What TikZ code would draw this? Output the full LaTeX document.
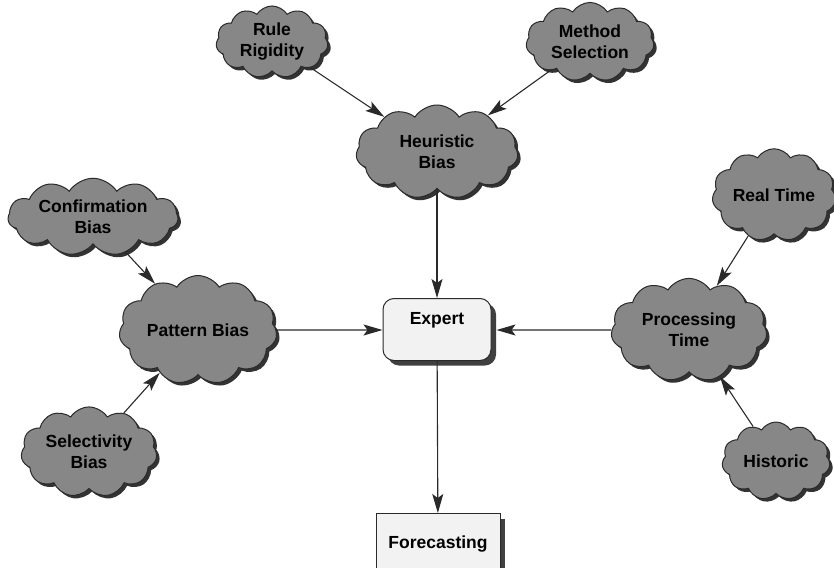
\documentclass[tikz,border=0pt]{standalone}
\usepackage{fontspec}
\setmainfont{Liberation Sans}
\usetikzlibrary{shapes.symbols,shadows,arrows.meta}
\definecolor{cloudfill}{HTML}{878787}
\definecolor{edgeink}{HTML}{2A2A2A}
\definecolor{boxfill}{HTML}{F2F2F2}
\begin{document}
\begin{tikzpicture}[x=1pt,y=-1pt,
  lbl/.style={font=\bfseries\fontsize{17.5}{21}\selectfont, align=center, text=black},
  idea/.style={lbl, cloud, cloud puffs=11, cloud puff arc=115, aspect=1.6,
    fill=cloudfill, draw=edgeink, line width=1pt, inner sep=0pt,
    drop shadow={shadow xshift=3pt, shadow yshift=-3pt, fill=black!80, opacity=1}},
  card/.style={lbl, rectangle, fill=boxfill, draw=edgeink, line width=1pt,
    drop shadow={shadow xshift=5pt, shadow yshift=-5pt, fill=black!75, opacity=1}},
  link/.style={draw=edgeink, line width=1.1pt,
    -{Stealth[length=19pt,width=11pt,inset=4pt]}}]
\useasboundingbox (0,0) rectangle (834,567);
\fill[white] (0,0) rectangle (834,567);

% concept clouds
\node[idea, aspect=1.5, minimum width=112pt, minimum height=72pt] (rule) at (272,42) {Rule\\Rigidity};
\node[idea, aspect=1.7, minimum width=128pt, minimum height=72pt] (method) at (590,42) {Method\\Selection};
\node[idea, aspect=1.7, minimum width=162pt, minimum height=94pt] (heur) at (437,152) {Heuristic\\Bias};
\node[idea, aspect=2.4, inner sep=-5pt, minimum width=170pt, minimum height=74pt] (confirm) at (93,217) {Confirmation\\Bias};
\node[idea, aspect=1.5, minimum width=108pt, minimum height=72pt] (real) at (774,195) {Real Time};
\node[idea, aspect=1.6, minimum width=158pt, minimum height=98pt] (pattern) at (198,330) {Pattern Bias};
\node[idea, aspect=1.55, minimum width=156pt, minimum height=102pt] (proc) at (689,330) {Processing\\Time};
\node[idea, aspect=1.65, minimum width=136pt, minimum height=82pt] (select) at (89,452) {Selectivity\\Bias};
\node[idea, aspect=1.4, minimum width=108pt, minimum height=78pt] (hist) at (776,461) {Historic};

% boxes
\node[card, rounded corners=11pt, minimum width=108pt, minimum height=62pt,
      anchor=north, text depth=22pt] (expert) at (437,298) {Expert};
\node[card, minimum width=124pt, minimum height=62pt, anchor=north,
      text depth=4pt] (fore) at (438,513) {Forecasting};

% connectors
\draw[link] (rule) -- (heur);
\draw[link] (method) -- (heur);
\draw[link] (heur) -- (heur |- expert.north);
\draw[link] (confirm) -- (pattern);
\draw[link] (select) -- (pattern);
\draw[link] (pattern) -- (pattern -| expert.west);
\draw[link] (real) -- (proc);
\draw[link] (hist) -- (proc);
\draw[link] (proc) -- ([xshift=5pt]proc -| expert.east);
\draw[link] (expert) -- (fore);
\end{tikzpicture}
\end{document}
